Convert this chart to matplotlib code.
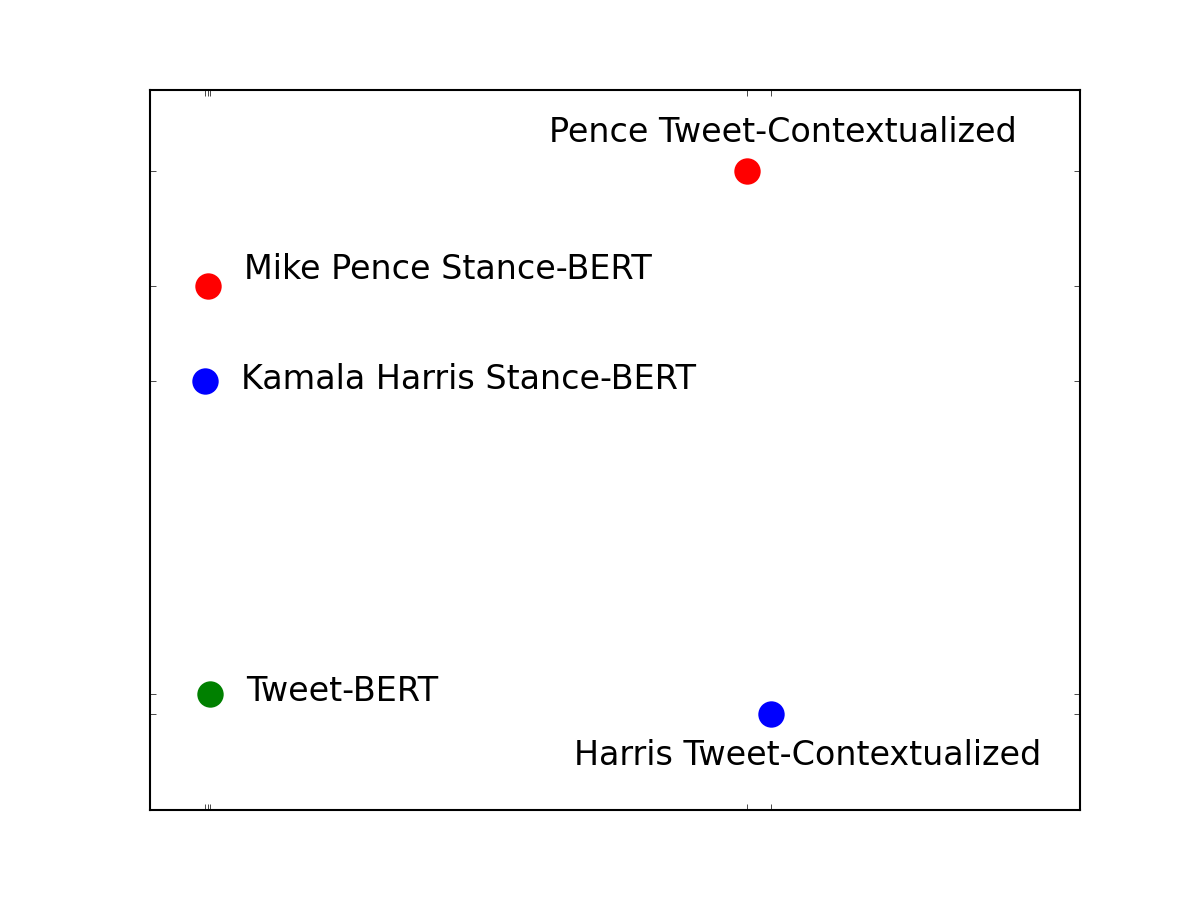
import matplotlib
matplotlib.use('Agg')
import matplotlib.pyplot as plt

plt.style.use('classic')

# models and their (made-up scale) coordinates
names = ['Pence Tweet-Contextualized', 'Mike Pence Stance-BERT',
         'Kamala Harris Stance-BERT', 'Tweet-BERT', 'Harris Tweet-Contextualized']
xs = [6.42, 0.62, 0.59, 0.645, 6.68]
ys = [8.875, 7.28, 5.96, 1.61, 1.33]
colors = ['red', 'red', 'blue', 'green', 'blue']

# label offsets in points: (dx, dy, ha)
offs = [(26, 27.5, 'center'), (26, 12, 'left'), (26, 1, 'left'),
        (26, 1.5, 'left'), (26, -29.5, 'center')]

fig = plt.figure(figsize=(12, 9), dpi=100)
ax = fig.add_subplot(111)

for x, y, c in zip(xs, ys, colors):
    ax.plot([x], [y], 'o', color=c, markersize=19, markeredgewidth=0)

for n, x, y, o in zip(names, xs, ys, offs):
    ax.annotate(n, (x, y), xytext=(o[0], o[1]), textcoords='offset points',
                ha=o[2], va='center', fontsize=24)

ax.set_xlim(0, 10)
ax.set_ylim(0, 10)
ax.set_xticks(xs)
ax.set_yticks(ys)
ax.set_xticklabels([])
ax.set_yticklabels([])
for s in ax.spines.values():
    s.set_linewidth(1.5)

fig.savefig('out.png', dpi=100)
